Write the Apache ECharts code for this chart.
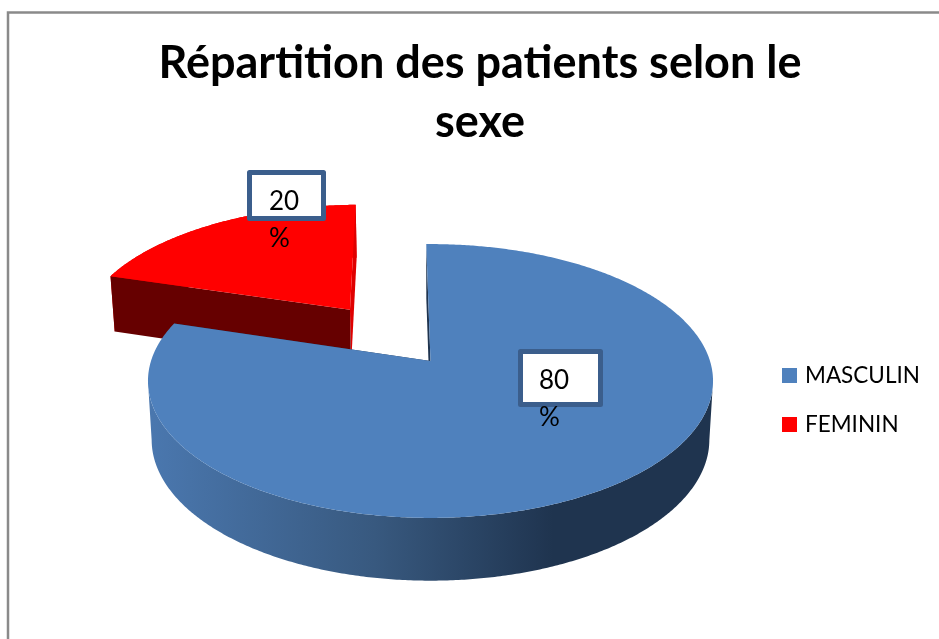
<!DOCTYPE html>
<html>
<head>
<meta charset="utf-8">
<style>
    html, body { margin: 0; padding: 0; background: #fff; }
    #chart { width: 939px; height: 639px; }
</style>
</head>
<body>
<div id="chart"></div>
<script src="https://cdn.jsdelivr.net/npm/echarts@6/dist/echarts.min.js"></script>
<script>
const categories = ['MASCULIN', 'FEMININ']
const values = [80, 20]
const explode = [0, 0.507] // in radii
const colors = ['#4f81bd', '#ff0000']
const labelText = ['80\n%', '20\n%']

const FONT = 'Lato'
const total = values[0] + values[1]

// the pie lies on a tilted plane, this is the perspective of that plane
const cx = 430.5, cy = 361, rx = 279.5, ry = 134, k = 0.146
const startDeg = -1
const project = (u, v) => {
    const w = 1 - k * v
    return { x: cx + rx * u / w, y: cy + ry * v / w, w: w }
}
// same point on the lower face of the pie
const lower = (p) => ({ x: cx + (p.x - cx) * 0.987, y: p.y + 58 / Math.sqrt(p.w) })
const xy = (p) => [p.x, p.y]

const wallGradient = new echarts.graphic.LinearGradient(152, 0, 709, 0, [
    { offset: 0, color: '#4a77ae' },
    { offset: 0.4, color: '#38597f' },
    { offset: 0.72, color: '#1f344f' },
    { offset: 1, color: '#1f344f' },
], true)
const wallColors = [wallGradient, '#e00000']
const firstCutColors = ['#1f344f', '#660000']
const lastCutColors = ['#1f344f', '#e00000']
const labelBoxes = [
    { x: 520.5, y: 351.5, width: 80, height: 53, textX: 539, textY: 399.5 },
    { x: 249.5, y: 172.5, width: 74, height: 46, textX: 269, textY: 220 },
]

function renderSlice(i) {
    let before = 0
    for (let j = 0; j < i; j++) before += values[j]
    const a0 = startDeg + before / total * 360
    const a1 = a0 + values[i] / total * 360
    const mid = (a0 + a1) / 2 * Math.PI / 180
    const ou = Math.sin(mid) * explode[i]
    const ov = -Math.cos(mid) * explode[i]

    const center = project(ou, ov)
    const arc = []
    for (let a = a0; a <= a1 + 0.001; a += 0.5) {
        const r = a * Math.PI / 180
        arc.push(project(ou + Math.sin(r), ov - Math.cos(r)))
    }
    const first = arc[0]
    const last = arc[arc.length - 1]
    const box = labelBoxes[i]

    // only the front of the wall, between the widest points of the arc
    let left = 0
    let right = 0
    arc.forEach((p, n) => {
        if (p.x < arc[left].x) left = n
        if (p.x > arc[right].x) right = n
    })
    const front = arc.slice(Math.min(left, right), Math.max(left, right) + 1)

    const poly = (points, fill) => ({
        type: 'polygon',
        shape: { points: points },
        style: { fill: fill },
    })
    return {
        type: 'group',
        children: [
            // outer wall
            poly(front.map(xy).concat(front.slice().reverse().map((p) => xy(lower(p)))), wallColors[i]),
            // cut faces
            poly([last, center, lower(center), lower(last)].map(xy), lastCutColors[i]),
            poly([first, center, lower(center), lower(first)].map(xy), firstCutColors[i]),
            // top
            poly([xy(center)].concat(arc.map(xy)), colors[i]),
            {
                type: 'rect',
                shape: { x: box.x, y: box.y, width: box.width, height: box.height },
                style: { fill: '#fff', stroke: '#3b5e8c', lineWidth: 5, lineJoin: 'round' },
            },
            {
                type: 'text',
                style: {
                    x: box.textX,
                    y: box.textY,
                    text: labelText[i],
                    fill: '#000',
                    font: '26px ' + FONT,
                    lineHeight: 37,
                    align: 'left',
                    verticalAlign: 'middle',
                },
            },
        ],
    }
}

const chart = echarts.init(document.getElementById('chart'), null, { renderer: 'canvas' })
chart.setOption({
    animation: false,
    backgroundColor: '#fff',
    title: {
        text: 'Répartition des patients selon le\nsexe',
        left: 475,
        top: 29,
        textAlign: 'center',
        textStyle: {
            fontFamily: FONT,
            fontWeight: 'bold',
            fontSize: 45,
            lineHeight: 59,
            color: '#000',
        },
    },
    legend: {
        data: categories,
        orient: 'vertical',
        left: 782,
        top: 364,
        padding: 0,
        icon: 'rect',
        itemWidth: 15,
        itemHeight: 15,
        itemGap: 26,
        textStyle: { fontFamily: FONT, fontSize: 22.5, color: '#000', padding: [0, 0, 0, 3] },
    },
    graphic: [
        {
            type: 'polyline',
            shape: { points: [[8, 639], [8, 12.5], [939, 12.5]] },
            style: { stroke: '#8a8a8a', lineWidth: 2.5, fill: null },
        },
    ],
    series: categories.map((name, i) => ({
        type: 'custom',
        name: name,
        coordinateSystem: 'none',
        z: 3 - i,
        itemStyle: { color: colors[i] },
        data: [[values[i]]],
        renderItem: () => renderSlice(i),
    })),
})
</script>
</body>
</html>
